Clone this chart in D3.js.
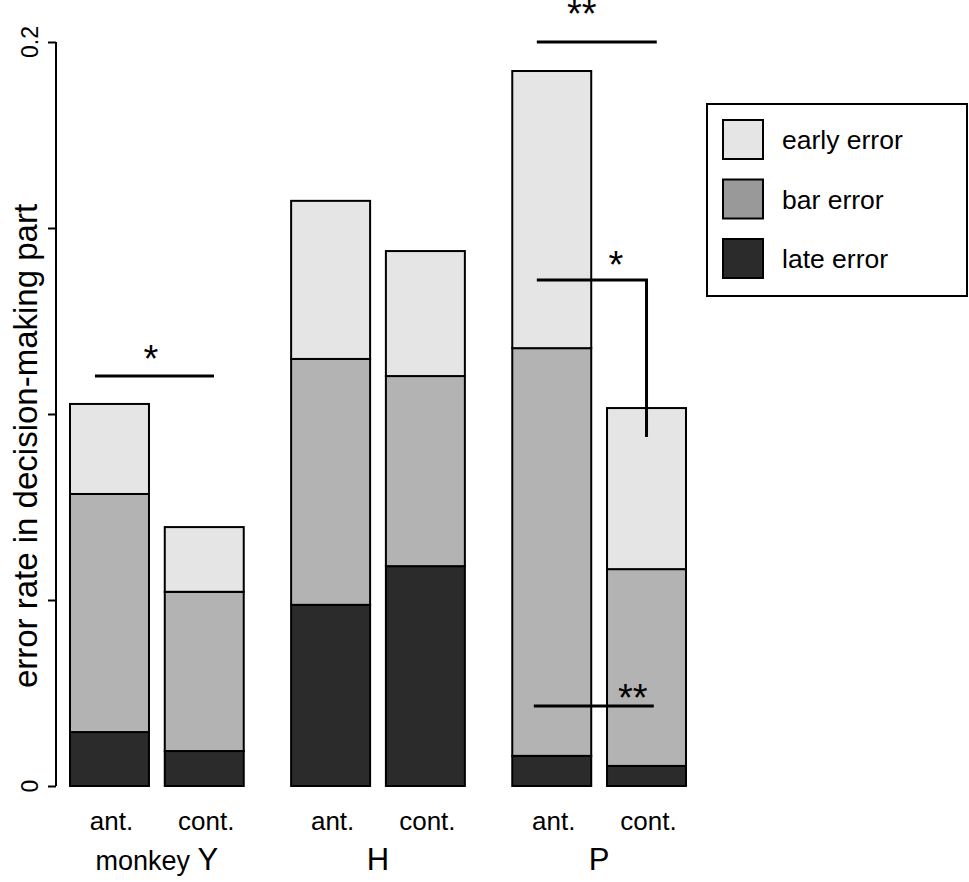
<!DOCTYPE html>
<html>
<head>
<meta charset="utf-8">
<script src="https://cdn.jsdelivr.net/npm/d3@7"></script>
<style>
html,body{margin:0;padding:0;background:#fff;}
svg{display:block;font-family:"Liberation Sans",Arial,Helvetica,sans-serif;}
</style>
</head>
<body>
<svg id="chart" width="969" height="882"></svg>
<script>
// ---- data ----
const groups = ["Y", "H", "P"];
const groupPrefix = ["monkey ", "", ""];
const conditions = ["ant.", "cont."];
const seriesKeys = ["late", "bar", "early"];
const seriesNames = ["early error", "bar error", "late error"];
const lateError  = [0.0145, 0.0094, 0.0487, 0.0591, 0.0081, 0.0054];
const barError   = [0.0640, 0.0428, 0.0661, 0.0511, 0.1096, 0.0529];
const earlyError = [0.0242, 0.0174, 0.0425, 0.0336, 0.0745, 0.0433];
const yTicks = [0, 0.05, 0.1, 0.15, 0.2];
const yTickLabels = ["0", "", "", "", "0.2"];
const yTitle = "error rate in decision-making part";
// significance annotations (x in bar-width units, y in data units)
const sigLines = [
  [[0.316, 0.1102], [1.823, 0.1102]],
  [[5.911, 0.2], [7.430, 0.2]],
  [[5.911, 0.136], [7.300, 0.136], [7.300, 0.0938]],
  [[5.873, 0.0215], [7.392, 0.0215]]
];
const sigMarks = [
  {x: 1.025, y: 0.1172, t: "*"},
  {x: 6.481, y: 0.2100, t: "**"},
  {x: 6.911, y: 0.1425, t: "*"},
  {x: 7.127, y: 0.0261, t: "**"}
];

// ---- table ----
const rows = [];
groups.forEach((g, gi) => conditions.forEach((c, ci) => {
  const i = gi * 2 + ci;
  rows.push({group: g, cond: c, late: lateError[i], bar: barError[i], early: earlyError[i]});
}));

const colors = {early: "#e5e5e5", bar: "#b3b3b3", late: "#2b2b2b"};
const legendColors = ["#e5e5e5", "#999999", "#2b2b2b"];

const svg = d3.select("#chart");
const plotL = 70, plotR = 686, plotTop = 42, plotBottom = 786;

const y = d3.scaleLinear().domain([0, 0.2]).range([plotBottom, plotTop]);
const xg = d3.scaleBand().domain(groups).range([plotL, plotR]).paddingInner(0.6 / 2.8).paddingOuter(0);
const xc = d3.scaleBand().domain(conditions).range([0, xg.bandwidth()]).paddingInner(0.2 / 1.2).paddingOuter(0);
const xu = d3.scaleLinear().domain([0, 7.8]).range([plotL, plotR]);

// ---- stacked bars ----
const stack = d3.stack().keys(seriesKeys)(rows);
svg.append("g").selectAll("g").data(stack).join("g")
  .attr("fill", d => colors[d.key])
  .selectAll("rect").data(d => d).join("rect")
  .attr("x", d => xg(d.data.group) + xc(d.data.cond))
  .attr("width", xc.bandwidth())
  .attr("y", d => y(d[1]))
  .attr("height", d => y(d[0]) - y(d[1]))
  .attr("stroke", "#000").attr("stroke-width", 2);

// ---- y axis ----
const axis = d3.axisLeft(y).tickValues(yTicks).tickSize(8).tickFormat(() => "");
const ag = svg.append("g").attr("transform", "translate(56,0)").call(axis);
ag.select(".domain").attr("stroke-width", 2).attr("d", `M-0,${y(0)}V${y(0.2)}`);
ag.selectAll(".tick line").attr("stroke-width", 2);
ag.selectAll(".tick text").remove();

svg.append("g").selectAll("text").data(yTicks).join("text")
  .attr("transform", d => `translate(38,${y(d)}) rotate(-90)`)
  .attr("text-anchor", "middle")
  .attr("font-size", 23)
  .attr("fill", "#000")
  .text((d, i) => yTickLabels[i]);

svg.append("text")
  .attr("transform", `translate(37,446) rotate(-90)`)
  .attr("text-anchor", "middle")
  .attr("font-size", 33)
  .text(yTitle);

// ---- category labels ----
svg.append("g").selectAll("text").data(rows).join("text")
  .attr("x", d => xg(d.group) + xc(d.cond) + xc.bandwidth() / 2 + 2)
  .attr("y", 830)
  .attr("text-anchor", "middle")
  .attr("font-size", 26)
  .text(d => d.cond);

const gl = svg.append("g").selectAll("text").data(groups).join("text")
  .attr("x", d => xg(d) + xg.bandwidth() / 2)
  .attr("y", 870)
  .attr("text-anchor", "middle");
gl.append("tspan").attr("font-size", 27).text((d, i) => groupPrefix[i]);
gl.append("tspan").attr("font-size", 31).text(d => d);

// ---- significance ----
const line = d3.line().x(d => xu(d[0])).y(d => y(d[1]));
svg.append("g").selectAll("path").data(sigLines).join("path")
  .attr("d", line).attr("fill", "none").attr("stroke", "#000").attr("stroke-width", 3);
svg.append("g").selectAll("text").data(sigMarks).join("text")
  .attr("x", d => xu(d.x)).attr("y", d => y(d.y) + 22)
  .attr("text-anchor", "middle").attr("font-size", 38)
  .text(d => d.t);

// ---- legend ----
const lg = svg.append("g");
lg.append("rect").attr("x", 707).attr("y", 104).attr("width", 260).attr("height", 192)
  .attr("fill", "#fff").attr("stroke", "#000").attr("stroke-width", 2);
const items = lg.selectAll("g.item").data(seriesNames).join("g").attr("class", "item")
  .attr("transform", (d, i) => `translate(723,${120 + i * 59.5})`);
items.append("rect").attr("width", 40).attr("height", 39)
  .attr("fill", (d, i) => legendColors[i]).attr("stroke", "#000").attr("stroke-width", 2);
items.append("text").attr("x", 59).attr("y", 29).attr("font-size", 26.5).text(d => d);
</script>
</body>
</html>
